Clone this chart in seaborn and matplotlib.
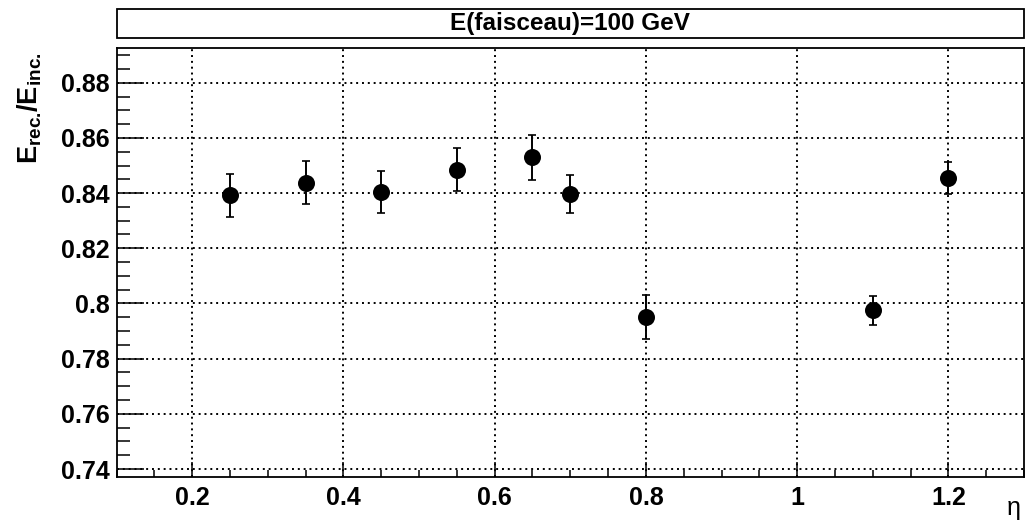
import matplotlib
matplotlib.use("Agg")
import matplotlib.pyplot as plt
import matplotlib.ticker as mticker
from matplotlib.patches import Rectangle
import pandas as pd
import seaborn as sns

# values
eta = [0.25, 0.35, 0.45, 0.55, 0.65, 0.70, 0.80, 1.10, 1.20]
ratio = [0.8393, 0.8438, 0.8405, 0.8484, 0.8530, 0.8397, 0.7951, 0.7975, 0.8454]
ratio_err = [0.0078, 0.0077, 0.0076, 0.0078, 0.0081, 0.0068, 0.0079, 0.0052, 0.0059]
title = "E(faisceau)=100 GeV"
x_range = (0.1, 1.3)
y_range = (0.737, 0.8927)

sns.set_theme(style="ticks")
plt.rcParams["font.family"] = ["Liberation Sans", "DejaVu Sans"]
plt.rcParams["font.weight"] = "bold"
plt.rcParams["text.color"] = "black"
plt.rcParams["axes.labelcolor"] = "black"
plt.rcParams["xtick.color"] = "black"
plt.rcParams["ytick.color"] = "black"
plt.rcParams["mathtext.fontset"] = "custom"
plt.rcParams["mathtext.rm"] = "Liberation Sans"
plt.rcParams["mathtext.bf"] = "Liberation Sans:bold"
plt.rcParams["mathtext.it"] = "Liberation Sans:italic"

df = pd.DataFrame({"eta": eta, "ratio": ratio, "err": ratio_err})

fig = plt.figure(figsize=(10.26, 5.31), dpi=100)
fig.patch.set_facecolor("white")
ax = fig.add_axes([0.1137, 0.1011, 0.8843, 0.8091])
ax.set_facecolor("white")

ax.errorbar(df["eta"], df["ratio"], yerr=df["err"], fmt="none",
            ecolor="black", elinewidth=1.4, capsize=3.2, capthick=1.2, zorder=3)
sns.scatterplot(data=df, x="eta", y="ratio", ax=ax, color="black",
                s=150, edgecolor="black", linewidth=0, zorder=4, legend=False)

ax.set_xlim(*x_range)
ax.set_ylim(*y_range)
ax.xaxis.set_major_locator(mticker.MultipleLocator(0.2))
ax.xaxis.set_minor_locator(mticker.MultipleLocator(0.05))
ax.yaxis.set_major_locator(mticker.MultipleLocator(0.02))
ax.yaxis.set_minor_locator(mticker.MultipleLocator(0.005))
fmt = mticker.FuncFormatter(lambda v, p: "%g" % round(v, 3))
ax.xaxis.set_major_formatter(fmt)
ax.yaxis.set_major_formatter(fmt)

ax.tick_params(axis="both", which="both", direction="in", color="black",
               labelcolor="black", top=False, right=False, width=1.1)
ax.tick_params(axis="x", which="major", length=10.8, pad=6, labelsize=18)
ax.tick_params(axis="x", which="minor", length=5)
ax.tick_params(axis="y", which="major", length=19.4, pad=5, labelsize=18)
ax.tick_params(axis="y", which="minor", length=9.4)
for lab in ax.get_xticklabels() + ax.get_yticklabels():
    lab.set_fontweight("bold")

ax.grid(True, which="major", color="black", linestyle=(0, (1, 2)), linewidth=1.4)
for sp in ax.spines.values():
    sp.set_color("black")
    sp.set_linewidth(1.3)

ax.set_xlabel("")
ax.set_ylabel(r"$\mathbf{E_{rec.}\!/E_{inc.}}$", fontsize=19.5, labelpad=8,
              color="black")
ax.yaxis.set_label_coords(-0.08, 0.86)
fig.text(0.995, 0.02, "η", fontsize=18, fontweight="normal", ha="right",
         va="bottom", color="black")

box = Rectangle((0.1137, 0.929), 0.8843, 0.054, transform=fig.transFigure,
                facecolor="white", edgecolor="black", linewidth=1.3)
fig.patches.append(box)
fig.text(0.1137 + 0.8843 / 2, 0.956, title, fontsize=17.5, fontweight="bold",
         ha="center", va="center", color="black")

fig.savefig("out.png", dpi=100, facecolor="white")
